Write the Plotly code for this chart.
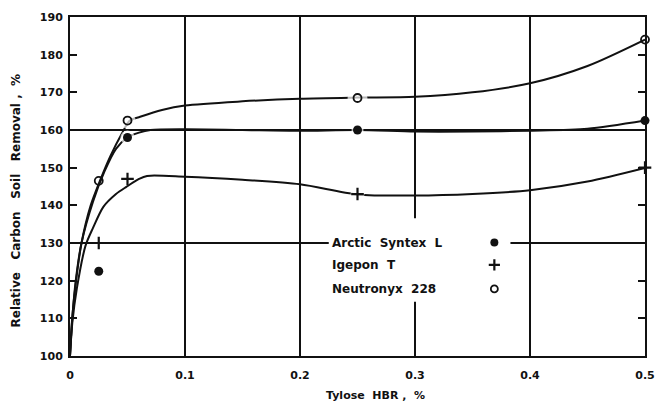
import plotly.graph_objects as go

# ---------------- data ----------------
series_names = ["Arctic Syntex L", "Igepon T", "Neutronyx 228"]

# measured points
pts_x = [0.025, 0.05, 0.25, 0.5]
arctic_y = [122.5, 158.0, 160.0, 162.5]
igepon_y = [130.0, 147.0, 143.0, 150.0]
neutronyx_y = [146.5, 162.5, 168.5, 184.0]

# hand-drawn smooth curves
arctic_curve_x = [0, 0.002, 0.005, 0.01, 0.02, 0.03, 0.04, 0.05, 0.06, 0.07, 0.1, 0.15, 0.2, 0.25, 0.3, 0.35, 0.4, 0.45, 0.5]
arctic_curve_y = [100, 110, 120, 130, 141, 149, 155, 158, 159.3, 160, 160.2, 160.0, 159.8, 160.0, 159.6, 159.6, 159.8, 160.3, 162.5]

igepon_curve_x = [0, 0.002, 0.006, 0.0135, 0.02, 0.029, 0.04, 0.049, 0.06, 0.067, 0.1, 0.15, 0.2, 0.25, 0.3, 0.35, 0.4, 0.45, 0.5]
igepon_curve_y = [100, 108.8, 118, 129.3, 134, 139.6, 143, 144.9, 147, 147.8, 147.6, 146.8, 145.6, 142.9, 142.6, 143, 144, 146.3, 149.9]

neutronyx_curve_x = [0, 0.002, 0.005, 0.01, 0.018, 0.026, 0.035, 0.045, 0.052, 0.061, 0.08, 0.1, 0.15, 0.2, 0.25, 0.3, 0.35, 0.4, 0.45, 0.5]
neutronyx_curve_y = [100, 110.4, 119.3, 130, 140, 146.5, 153, 159, 162.5, 163.5, 165.3, 166.5, 167.6, 168.3, 168.6, 168.8, 170, 172.4, 177, 184]

y_ticks = [100, 110, 120, 130, 140, 150, 160, 170, 180, 190]
y_grid = [130, 160]
x_ticks = [0, 0.1, 0.2, 0.3, 0.4, 0.5]
x_tick_labels = ["0", "0.1", "0.2", "0.3", "0.4", "0.5"]

legend_text_x = 0.226
legend_marker_x = 0.369
legend_y = [130.1, 124.2, 117.8]

SP = "\u00a0"
x_title = "Tylose" + SP * 2 + "HBR" + SP + "," + SP * 2 + "%"
y_title = ("Relative" + SP * 3 + "Carbon" + SP * 3 + "Soil" + SP * 3 + "Removal"
           + SP + "," + SP * 2 + "%")

# ---------------- styling ----------------
INK = "#111111"
FONT = "DejaVu Sans"
symbols = ["circle", "cross-thin", "circle-open"]
marker_sizes = [9, 9, 8]
marker_lw = [0, 2.2, 1.8]

fig = go.Figure()

curves = [(arctic_curve_x, arctic_curve_y), (igepon_curve_x, igepon_curve_y),
          (neutronyx_curve_x, neutronyx_curve_y)]
points = [arctic_y, igepon_y, neutronyx_y]
# white halos that make the hand-drawn gaps around the plotted points
halo_sizes = [[0, 14, 12, 0], [0, 0, 14, 0], [0, 16, 20, 0]]

for (cx, cy) in curves:
    fig.add_trace(go.Scatter(x=cx, y=cy, mode="lines",
                             line=dict(color=INK, width=2, shape="spline", smoothing=0.8),
                             hoverinfo="skip", showlegend=False))

for i, py in enumerate(points):
    fig.add_trace(go.Scatter(x=pts_x, y=py, mode="markers",
                             marker=dict(symbol="circle", size=halo_sizes[i], color="white",
                                         line=dict(width=0)),
                             hoverinfo="skip", showlegend=False, cliponaxis=False))

for i, py in enumerate(points):
    fig.add_trace(go.Scatter(x=pts_x, y=py, mode="markers", name=series_names[i],
                             marker=dict(symbol=symbols[i], size=marker_sizes[i], color=INK,
                                         line=dict(width=marker_lw[i], color=INK)),
                             showlegend=False, cliponaxis=False))

# legend: text then marker
for i, name in enumerate(series_names):
    fig.add_annotation(x=legend_text_x, y=legend_y[i], text=name.replace(" ", SP * 2),
                       showarrow=False, xanchor="left", yanchor="middle",
                       font=dict(family=FONT, size=12, color=INK, weight="bold"))
    fig.add_trace(go.Scatter(x=[legend_marker_x], y=[legend_y[i]], mode="markers",
                             marker=dict(symbol=symbols[i], size=marker_sizes[i] - 1, color=INK,
                                         line=dict(width=marker_lw[i], color=INK)),
                             hoverinfo="skip", showlegend=False))

# white block behind legend that interrupts grid lines
fig.add_shape(type="rect", xref="x", yref="y", x0=0.225, x1=0.383, y0=114.4, y1=136.6,
              fillcolor="white", line=dict(width=0), layer="between")

tick_font = dict(family=FONT, size=11, color=INK, weight="bold")

fig.update_layout(
    width=655, height=408, autosize=False,
    margin=dict(l=70, r=10, t=17, b=52, autoexpand=False),
    paper_bgcolor="white", plot_bgcolor="white",
    showlegend=False,
    xaxis=dict(range=[0, 0.5], tickvals=x_ticks, ticktext=x_tick_labels,
               showgrid=True, gridcolor=INK, gridwidth=1.5, zeroline=False,
               showline=True, linecolor=INK, linewidth=2, mirror=True,
               ticks="", tickfont=tick_font, ticklabelstandoff=8),
    yaxis=dict(range=[100, 190], tickvals=y_ticks,
               showgrid=False, zeroline=False,
               showline=True, linecolor=INK, linewidth=2, mirror="ticks",
               ticks="inside", ticklen=7, tickwidth=1.5, tickcolor=INK,
               tickfont=tick_font, ticklabelstandoff=3),
    yaxis2=dict(range=[100, 190], overlaying="y", tickvals=y_grid, showgrid=True,
                gridcolor=INK, gridwidth=1.5, showticklabels=False, ticks="",
                zeroline=False, showline=False),
)

# one invisible trace on yaxis2 so the overlay grid is rendered
fig.add_trace(go.Scatter(x=[0], y=[100], yaxis="y2", mode="markers",
                         marker=dict(size=0, opacity=0), hoverinfo="skip", showlegend=False))

fig.add_annotation(xref="paper", yref="paper", x=0.532, y=0, yshift=-39, text=x_title,
                   showarrow=False, xanchor="center", yanchor="middle",
                   font=dict(family=FONT, size=11, color=INK, weight="bold"))
fig.add_annotation(xref="paper", yref="paper", x=0, y=0.5, xshift=-55, yshift=-14,
                   text=y_title, textangle=-90, showarrow=False,
                   xanchor="center", yanchor="middle",
                   font=dict(family=FONT, size=12, color=INK, weight="bold"))

fig.write_html("out.html", config={"responsive": False, "displayModeBar": False},
               post_script="document.body.style.margin='0';document.body.style.padding='0';")
